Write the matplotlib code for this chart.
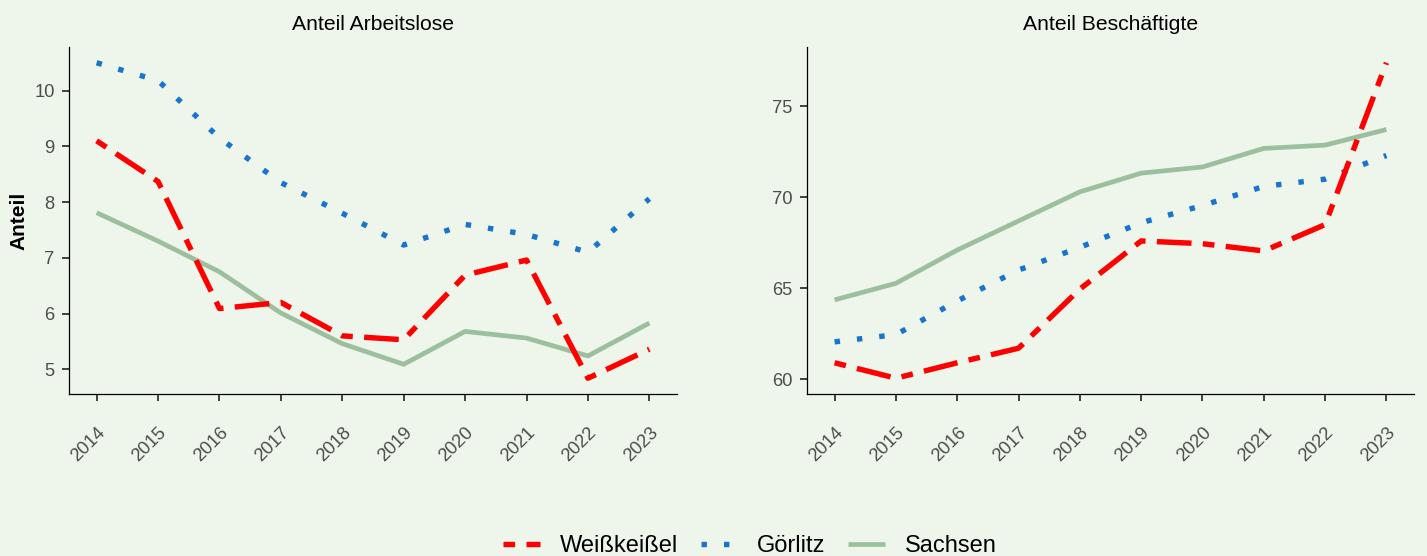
import matplotlib
matplotlib.use("Agg")
import matplotlib.pyplot as plt
from matplotlib.lines import Line2D

plt.rcParams['font.family'] = ['Liberation Sans', 'DejaVu Sans']

# ---- data ----
years = [2014, 2015, 2016, 2017, 2018, 2019, 2020, 2021, 2022, 2023]
series_names = ["Weißkeißel", "Görlitz", "Sachsen"]

arbeitslose_weisskeissel = [9.10, 8.37, 6.09, 6.20, 5.60, 5.53, 6.69, 6.96, 4.84, 5.36]
arbeitslose_goerlitz = [10.50, 10.18, 9.15, 8.35, 7.80, 7.23, 7.60, 7.42, 7.10, 8.06]
arbeitslose_sachsen = [7.81, 7.30, 6.75, 6.01, 5.46, 5.09, 5.68, 5.56, 5.24, 5.83]

beschaeftigte_weisskeissel = [60.9, 60.05, 60.9, 61.7, 64.95, 67.6, 67.45, 67.05, 68.5, 77.4]
beschaeftigte_goerlitz = [62.05, 62.45, 64.3, 66.0, 67.25, 68.6, 69.55, 70.6, 71.0, 72.3]
beschaeftigte_sachsen = [64.36, 65.27, 67.1, 68.7, 70.3, 71.33, 71.67, 72.69, 72.87, 73.73]

panel_titles = ["Anteil Arbeitslose", "Anteil Beschäftigte"]
y_ticks_left = [5, 6, 7, 8, 9, 10]
y_ticks_right = [60, 65, 70, 75]

# ---- styles ----
BG = '#EEF6EB'
RED = '#FF0000'
BLUE = '#1874CD'
GREEN = '#9CC09D'
LW = 3.9
LW_GREEN = 3.4
TWODASH = (2.15, 2.1, 6.4, 2.1)
DOTTED = (1.0, 3.15)

styles = {
    "Weißkeißel": dict(color=RED, dashes=TWODASH, lw=LW),
    "Görlitz": dict(color=BLUE, dashes=DOTTED, lw=LW),
    "Sachsen": dict(color=GREEN, lw=LW_GREEN),
}

fig = plt.figure(figsize=(14.27, 5.56), dpi=100, facecolor=BG)
W, H = 1427, 556

def px_axes(x0, y0, x1, y1):
    return fig.add_axes([x0 / W, 1 - y1 / H, (x1 - x0) / W, (y1 - y0) / H])

ax1 = px_axes(69, 47, 677, 394)
ax2 = px_axes(807, 47, 1414, 394)

data = [
    (ax1, {"Weißkeißel": arbeitslose_weisskeissel, "Görlitz": arbeitslose_goerlitz,
           "Sachsen": arbeitslose_sachsen}, y_ticks_left, panel_titles[0]),
    (ax2, {"Weißkeißel": beschaeftigte_weisskeissel, "Görlitz": beschaeftigte_goerlitz,
           "Sachsen": beschaeftigte_sachsen}, y_ticks_right, panel_titles[1]),
]

for ax, vals, yt, title in data:
    ax.set_facecolor(BG)
    for name in ["Sachsen", "Görlitz", "Weißkeißel"]:
        st = styles[name]
        if 'dashes' in st:
            ax.plot(years, vals[name], color=st['color'], lw=st['lw'], dashes=st['dashes'],
                    dash_capstyle='butt', dash_joinstyle='round')
        else:
            ax.plot(years, vals[name], color=st['color'], lw=st['lw'], linestyle='-',
                    solid_capstyle='butt', solid_joinstyle='round')
    ax.margins(x=0.05, y=0.05)
    ax.set_xticks(years)
    ax.set_xticklabels([str(y) for y in years], rotation=45, ha='right', va='top',
                       rotation_mode='anchor')
    ax.set_yticks(yt)
    ax.set_yticklabels([str(v) for v in yt])
    for s in ['top', 'right']:
        ax.spines[s].set_visible(False)
    for s in ['left', 'bottom']:
        ax.spines[s].set_linewidth(0.9)
        ax.spines[s].set_color('black')
    ax.tick_params(axis='both', direction='out', length=4.8, width=1.3, color='#333333',
                   labelsize=13.2, labelcolor='#4D4D4D')
    ax.tick_params(axis='x', pad=16.5)
    ax.tick_params(axis='y', pad=5.5)
    ax.set_title(title, fontsize=15.2, color='black', pad=12)

ax1.set_ylabel("Anteil", fontsize=15, fontweight='bold', color='black')
ax1.yaxis.set_label_coords((18.5 - 69) / (677 - 69), 0.5)
ax1.yaxis.label.set_verticalalignment('center')

# legend
handles = [
    Line2D([0], [0], color=RED, lw=LW, dashes=TWODASH, dash_capstyle='butt'),
    Line2D([0], [0], color=BLUE, lw=LW, dashes=DOTTED, dash_capstyle='butt'),
    Line2D([0], [0], color=GREEN, lw=LW_GREEN, solid_capstyle='butt'),
]
leg = fig.legend(handles, series_names, loc='center', ncol=3,
                 bbox_to_anchor=(750 / W, 1 - 546 / H), frameon=False,
                 fontsize=17, handlelength=1.55, handletextpad=0.85, columnspacing=0.95)

fig.savefig("out.png", dpi=100, facecolor=BG)
